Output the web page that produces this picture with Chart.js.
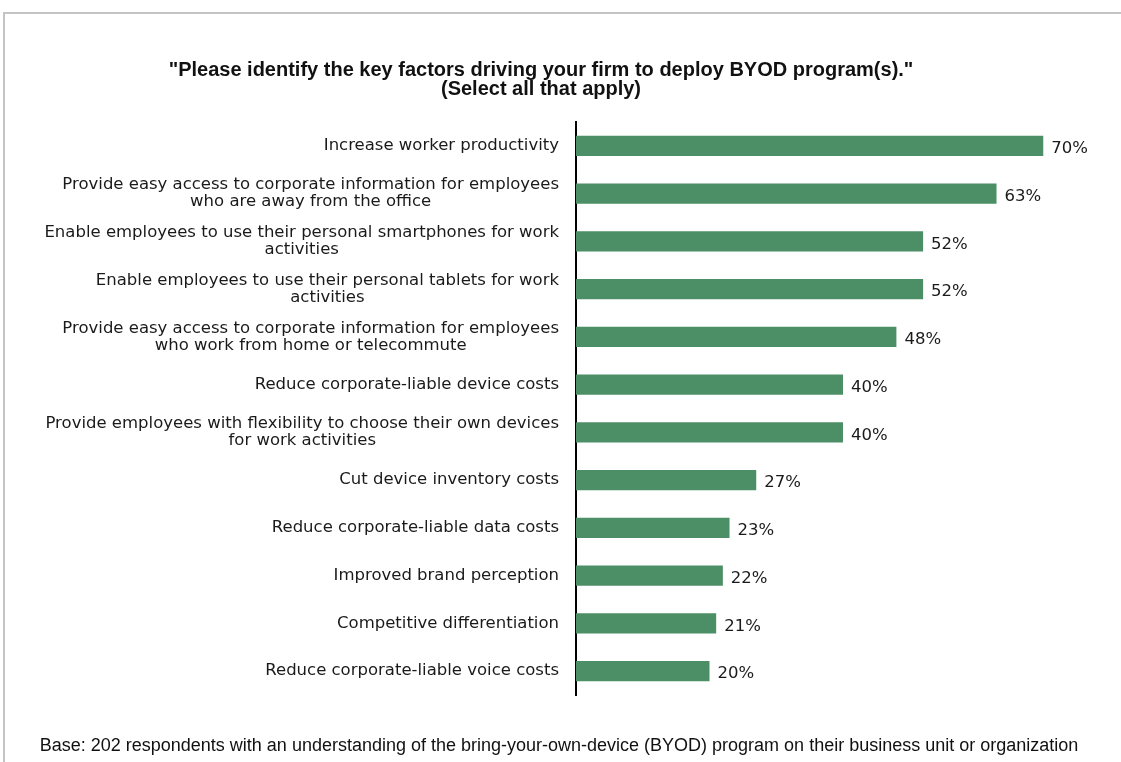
<!DOCTYPE html>
<html>
<head>
<meta charset="utf-8">
<title>BYOD key factors</title>
<script src="https://cdn.jsdelivr.net/npm/chart.js@4.4.1/dist/chart.umd.min.js"></script>
<style>
  html, body { margin: 0; padding: 0; background: #fff; }
  #wrap { position: relative; width: 1121px; height: 762px; }
</style>
</head>
<body>
<div id="wrap"><canvas id="byodChart"></canvas></div>
<script>
// survey answers, top to bottom
var factors = [
  "Increase worker productivity",
  ["Provide easy access to corporate information for employees", "who are away from the office"],
  ["Enable employees to use their personal smartphones for work", "activities"],
  ["Enable employees to use their personal tablets for work", "activities"],
  ["Provide easy access to corporate information for employees", "who work from home or telecommute"],
  "Reduce corporate-liable device costs",
  ["Provide employees with flexibility to choose their own devices", "for work activities"],
  "Cut device inventory costs",
  "Reduce corporate-liable data costs",
  "Improved brand perception",
  "Competitive differentiation",
  "Reduce corporate-liable voice costs"
];
var percents = [70, 63, 52, 52, 48, 40, 40, 27, 23, 22, 21, 20];

var titleLines = [
  "\"Please identify the key factors driving your firm to deploy BYOD program(s).\"",
  "(Select all that apply)"
];
var baseNote = "Base: 202 respondents with an understanding of the bring-your-own-device (BYOD) program on their business unit or organization";

var labelFont = '16.5px "DejaVu Sans", sans-serif';

// thin grey frame along the top and left edge
var framePlugin = {
  id: "frame",
  beforeDraw: function(chart) {
    var ctx = chart.ctx;
    ctx.save();
    ctx.strokeStyle = "#c4c4c4";
    ctx.lineWidth = 2;
    ctx.beginPath();
    ctx.moveTo(4, chart.height);
    ctx.lineTo(4, 13);
    ctx.lineTo(chart.width, 13);
    ctx.stroke();
    ctx.restore();
  }
};

// question text on top, base note at the bottom
var textPlugin = {
  id: "texts",
  afterDraw: function(chart) {
    var ctx = chart.ctx;
    ctx.save();
    ctx.fillStyle = "#111";
    ctx.textAlign = "center";
    ctx.textBaseline = "middle";
    ctx.font = 'bold 20px "Liberation Sans", Arial, sans-serif';
    ctx.fillText(titleLines[0], 541, 70);
    ctx.fillText(titleLines[1], 541, 89);
    ctx.font = '18px "Liberation Sans", sans-serif';
    ctx.fillText(baseNote, 559, 746);
    ctx.restore();
  }
};

// category names: first line flush right, following lines centred under it
var categoryPlugin = {
  id: "categoryLabels",
  afterDraw: function(chart) {
    var ctx = chart.ctx;
    var yScale = chart.scales.y;
    var right = yScale.right - 17;
    var lineH = 17;
    ctx.save();
    ctx.font = labelFont;
    ctx.fillStyle = "#1a1a1a";
    ctx.textBaseline = "middle";
    factors.forEach(function(label, i) {
      var lines = Array.isArray(label) ? label : [label];
      var y0 = yScale.getPixelForTick(i) - (lines.length - 1) * lineH / 2;
      var w1 = ctx.measureText(lines[0]).width;
      lines.forEach(function(line, j) {
        if (j === 0) {
          ctx.textAlign = "right";
          ctx.fillText(line, right, y0);
        } else {
          ctx.textAlign = "center";
          ctx.fillText(line, right - w1 / 2, y0 + j * lineH);
        }
      });
    });
    ctx.restore();
  }
};

// percentage at the end of each bar
var valuePlugin = {
  id: "barValues",
  afterDatasetsDraw: function(chart) {
    var ctx = chart.ctx;
    var meta = chart.getDatasetMeta(0);
    ctx.save();
    ctx.font = labelFont;
    ctx.fillStyle = "#1a1a1a";
    ctx.textAlign = "left";
    ctx.textBaseline = "middle";
    meta.data.forEach(function(bar, i) {
      ctx.fillText(percents[i] + "%", bar.x + 8, bar.y + 3);
    });
    ctx.restore();
  }
};

new Chart(document.getElementById("byodChart"), {
  type: "bar",
  data: {
    labels: factors,
    datasets: [{
      data: percents,
      backgroundColor: "#4c8e66",
      borderWidth: 0,
      barPercentage: 0.42,
      categoryPercentage: 1
    }]
  },
  options: {
    indexAxis: "y",
    responsive: true,
    maintainAspectRatio: false,
    animation: false,
    layout: { padding: { top: 122, bottom: 67, left: 0, right: 11 } },
    plugins: {
      legend: { display: false },
      tooltip: { enabled: false }
    },
    scales: {
      x: {
        display: false,
        min: 0,
        max: 80
      },
      y: {
        afterFit: function(scale) { scale.width = 576; },
        grid: { display: false, drawTicks: false },
        border: { display: true, color: "#000", width: 2 },
        ticks: { display: false }
      }
    }
  },
  plugins: [framePlugin, textPlugin, categoryPlugin, valuePlugin]
});
</script>
</body>
</html>
